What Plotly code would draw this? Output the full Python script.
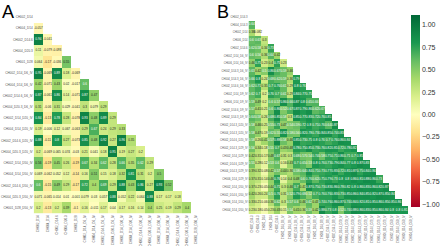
import plotly.graph_objects as go

labels_a = ["CH002_D14","CH004_D14","CH002_D14.6","CH004_D20.3","CH001_D28",
 "CH002_D14_D6_IV","CH004_D14_D6_IV","CH002_D14.6_D6_IV","CH004_D20.3_D6_IV",
 "CH002_D14_D20_IV","CH004_D14_D20_IV","CH002_D14.6_D20_IV","CH004_D20.3_D20_IV",
 "CH002_D14_D50_IV","CH004_D14_D50_IV","CH002_D14.6_D50_IV","CH004_D20.3_D50_IV","CH001_D28_D50_IV"]

rows_a = [
 [],
 [-0.057],
 [0.94,-0.041],
 [0.11,-0.079,-0.093],
 [0.064,-0.17,-0.036,0.55],
 [0.95,-0.069,0.89,0.18,-0.069],
 [0.42,-0.071,0.43,0.02,-0.017,0.6],
 [0.87,-0.061,0.86,0.14,-0.071,0.87,0.47],
 [0.31,-0.06,0.31,0.029,-0.041,0.3,0.079,0.29],
 [0.84,-0.13,0.78,0.28,-0.078,0.93,0.48,0.89,0.29],
 [0.19,-0.006,0.12,0.067,-0.063,0.29,0.67,0.24,0.29,0.33],
 [0.88,-0.11,0.8,0.27,-0.073,0.85,0.48,0.92,0.27,0.96,0.35],
 [0.2,-0.069,0.065,0.074,-0.03,0.21,0.041,0.18,0.95,0.19,0.27,0.2],
 [0.56,-0.19,0.45,0.26,-0.19,0.67,0.34,0.62,0.28,0.66,0.35,0.62,0.29],
 [0.069,-0.062,0.052,0.12,-0.14,0.16,0.51,0.15,0.18,0.32,0.81,0.31,0.2,0.5],
 [0.6,-0.15,0.49,0.29,-0.17,0.72,0.4,0.69,0.29,0.88,0.43,0.86,0.27,0.93,0.52],
 [0.071,-0.065,0.014,0.01,-0.001,0.079,0.03,0.057,0.88,0.052,0.22,0.064,0.88,0.17,0.17,0.18],
 [0.2,-0.13,0.2,0.39,-0.1,0.16,-0.011,0.17,0.04,0.17,0.16,0.14,0.4,0.25,0.19,0.29,0.4],
]

labels_b = ["CH002_D14.3","CH004_D14.3","CH002_D14","CH006_D14","CH002_D14.6",
 "CH002_D14_D6_IV","CH006_D14_D6_IV","CH002_D14.3_D6_IV","CH004_D14.3_D6_IV","CH002_D14.6_D6_IV",
 "CH002_D14_D9_IV","CH006_D14_D9_IV","CH002_D14.6_D9_IV","CH002_D14.3_D9_IV",
 "CH002_D14.3_D20_IV","CH004_D14.3_D20_IV","CH002_D14.6_D20_IV","CH002_D14.3_D29_IV",
 "CH002_D14_D29_IV","CH002_D14.6_D29_IV","CH004_D14.3_D29_IV","CH006_D14_D29_IV",
 "CH002_D14_D50_IV","CH002_D14.6_D50_IV","CH006_D14_D50_IV","CH004_D14_D50_IV"]

rows_b = [
 [],
 [0.64],
 [0.38,0.082],
 [0.6,0.63,0.3],
 [0.62,0.58,0.34,0.73],
 [0.6,0.56,0.36,0.64,0.42],
 [0.46,0.75,0.23,0.4,0.75,0.23],
 [0.63,0.42,0.5,0.86,0.67,0.59,0.46],
 [0.66,0.8,0.24,0.68,0.62,0.59,0.36,0.79],
 [0.62,0.71,0.35,0.7,0.76,0.61,0.29,0.8,0.76],
 [0.62,0.7,0.2,0.76,0.7,0.61,0.29,0.84,0.77,0.75],
 [0.59,0.49,0.2,0.6,0.57,0.86,0.66,0.87,0.8,0.65,0.66],
 [0.57,0.41,0.21,0.6,0.86,0.52,0.67,0.87,0.79,0.86,0.62,0.67],
 [0.64,0.58,0.26,0.68,0.85,0.58,0.3,0.85,0.77,0.83,0.72,0.76,0.85],
 [0.58,0.46,0.25,0.55,0.73,0.47,0.54,0.59,0.72,0.8,0.71,0.76,0.64,0.87],
 [0.58,0.47,0.19,0.62,0.55,0.82,0.58,0.56,0.82,0.78,0.73,0.84,0.85,0.74,0.83],
 [0.58,0.26,0.41,0.57,0.88,0.58,0.46,0.85,0.73,0.75,0.8,0.76,0.7,0.76,0.86,0.84],
 [0.56,0.34,0.18,0.55,0.7,0.43,0.48,0.78,0.75,0.85,0.73,0.76,0.82,0.81,0.72,0.78,0.82],
 [0.42,0.31,0.17,0.48,0.67,0.31,0.3,0.68,0.57,0.54,0.74,0.58,0.75,0.71,0.86,0.71,0.7,0.85],
 [0.55,0.28,0.12,0.53,0.6,0.16,0.43,0.7,0.65,0.53,0.8,0.76,0.73,0.79,0.84,0.77,0.8,0.87,0.83],
 [0.39,0.32,0.08,0.42,0.57,0.44,0.36,0.58,0.64,0.84,0.71,0.73,0.77,0.83,0.72,0.81,0.87,0.75,0.84,0.86],
 [0.37,0.31,0.14,0.46,0.76,0.14,0.4,0.48,0.6,0.76,0.62,0.75,0.79,0.73,0.8,0.8,0.86,0.81,0.88,0.86,0.73],
 [0.37,0.23,0.05,0.44,0.71,0.3,0.46,0.7,0.41,0.87,0.75,0.73,0.83,0.86,0.78,0.82,0.8,0.86,0.83,0.86,0.82,0.87],
 [0.42,0.26,0.24,0.5,0.76,0.31,0.52,0.79,0.68,0.52,0.7,0.76,0.76,0.83,0.73,0.85,0.86,0.84,0.85,0.82,0.87,0.85,0.84],
 [0.33,0.21,0.06,0.36,0.62,0.3,0.57,0.6,0.46,0.62,0.43,0.74,0.76,0.86,0.87,0.74,0.84,0.82,0.81,0.85,0.86,0.85,0.85,0.86],
 [0.23,0.18,0.05,0.23,0.43,0.15,0.54,0.41,0.36,0.59,0.42,0.88,0.73,0.8,0.52,0.74,0.88,0.86,0.83,0.85,0.86,0.84,0.8,0.8,0.81],
]

colorbar_ticks = [-1.0,-0.75,-0.5,-0.25,0.0,0.25,0.5,0.75,1.0]
CMIN, CMAX = -1.03, 1.11
stops = [(-1.03,"#a50026"),(-0.8,"#d73027"),(-0.6,"#f46d43"),(-0.4,"#fdae61"),(-0.2,"#fee08b"),
         (0.0,"#ffffbf"),(0.2,"#d9ef8b"),(0.4,"#a6d96a"),(0.6,"#66bd63"),(0.8,"#1a9850"),(1.11,"#006837")]
scale = [[(v-CMIN)/(CMAX-CMIN),c] for v,c in stops]

W,H = 440,246

def grid(rows):
    n=len(rows)
    return [list(r)+[None]*(n-len(r)) for r in rows]

def add_panel(fig, rows, xaxis, yaxis, threshold, size):
    n=len(rows)
    fig.add_trace(go.Heatmap(z=grid(rows),x=list(range(n)),y=list(range(n)),coloraxis="coloraxis",
        hoverongaps=False,xaxis=xaxis,yaxis=yaxis))
    cells=[(j,i,v) for i,r in enumerate(rows) for j,v in enumerate(r)]
    for color,keep in (("#222222",lambda v:v<threshold),("#ffffff",lambda v:v>=threshold)):
        sel=[c for c in cells if keep(c[2])]
        fig.add_trace(go.Scatter(x=[c[0] for c in sel],y=[c[1] for c in sel],text=[str(c[2]) for c in sel],
            mode="text",textposition="middle center",textfont=dict(size=size,color=color,family="Liberation Sans"),
            showlegend=False,xaxis=xaxis,yaxis=yaxis))

fig = go.Figure()
add_panel(fig,rows_a,"x","y",0.6,3.1)
add_panel(fig,rows_b,"x2","y2",0.5,3.2)

def xa(dom,n,labels,size,anchor):
    return dict(domain=[dom[0]/W,dom[1]/W],range=[-0.5,n-0.5],tickmode="array",tickvals=list(range(n)),anchor=anchor,
        ticktext=labels,tickangle=-90,tickfont=dict(size=size,color="#555555",family="Liberation Sans"),
        showgrid=False,zeroline=False,showline=False,ticks="",ticklen=0,automargin=False)
def ya(dom,n,labels,size,anchor):
    return dict(domain=[1-dom[1]/H,1-dom[0]/H],range=[n-0.5,-0.5],tickmode="array",tickvals=list(range(n)),anchor=anchor,
        ticktext=labels,tickfont=dict(size=size,color="#555555",family="Liberation Sans"),
        showgrid=False,zeroline=False,showline=False,ticks="",ticklen=0,automargin=False)

fig.update_layout(
    width=W,height=H,margin=dict(l=0,r=0,t=0,b=0,pad=0,autoexpand=False),paper_bgcolor="white",plot_bgcolor="white",
    font=dict(family="Liberation Sans"),hovermode=False,showlegend=False,
    xaxis=xa((33.7,201),18,labels_a,3.1,"y"),yaxis=ya((11.4,213.6),18,labels_a,3.1,"x"),
    xaxis2=xa((248.5,414),26,labels_b,2.7,"y2"),yaxis2=ya((13.1,213.9),26,labels_b,2.7,"x2"),
    coloraxis=dict(cmin=CMIN,cmax=CMAX,colorscale=scale,colorbar=dict(
        x=410.6/W,xanchor="left",y=1-15/H,yanchor="top",lenmode="pixels",len=192,thicknessmode="pixels",thickness=9.4,
        xpad=0,ypad=0,outlinewidth=0,ticks="",ticklen=0,tickmode="array",tickvals=colorbar_ticks,
        tickformat=".2f",tickfont=dict(size=7,color="#333333",family="Liberation Sans"))),
    annotations=[
        dict(text="A",x=1/W,y=1-1/H,xref="paper",yref="paper",xanchor="left",yanchor="top",showarrow=False,
             font=dict(size=18,color="black"),borderpad=0),
        dict(text="B",x=216/W,y=1-1/H,xref="paper",yref="paper",xanchor="left",yanchor="top",showarrow=False,
             font=dict(size=18,color="black"),borderpad=0),
    ],
)
fig.write_html("out.html",config=dict(staticPlot=True,displayModeBar=False),
    post_script="document.body.style.margin='0';document.documentElement.style.overflow='hidden';")
